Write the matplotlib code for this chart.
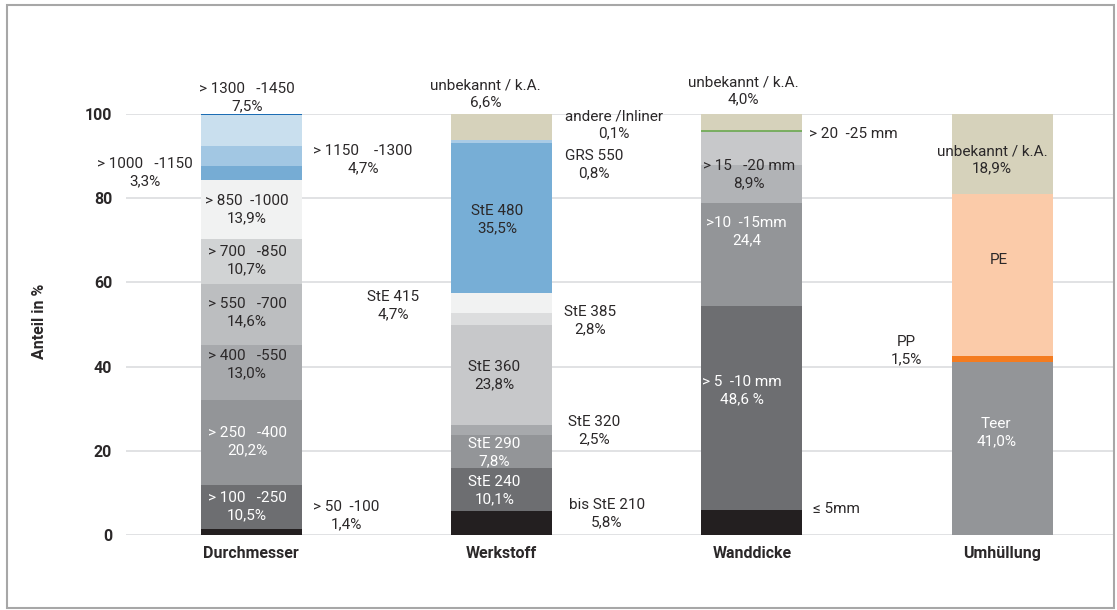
import matplotlib
matplotlib.use("Agg")
import matplotlib.pyplot as plt
import numpy as np

# categories on the x axis
categories = ["Durchmesser", "Werkstoff", "Wanddicke", "Umhüllung"]

# segment shares in %, bottom to top
durchmesser = [1.4, 10.5, 20.2, 13.0, 14.6, 10.7, 13.9, 3.3, 4.7, 7.5, 0.2]
werkstoff = [5.8, 10.1, 7.8, 2.5, 23.8, 2.8, 4.7, 35.5, 0.8, 0.1, 6.6]
wanddicke = [5.9, 48.6, 24.4, 8.9, 8.2, 4.0]
umhuellung = [41.0, 1.5, 38.6, 18.9]
yticks = [0, 20, 40, 60, 80, 100]

# segment colours
c_durch = ["#231f20", "#6d6e71", "#939598", "#a7a9ac", "#bcbec0", "#d1d3d4",
           "#f1f2f2", "#76acd4", "#a2c7e3", "#c9dfee", "#1c6db4"]
c_werk = ["#231f20", "#6d6e71", "#939598", "#a7a9ac", "#c7c8ca", "#dcddde",
          "#f1f2f2", "#77aed6", "#a9cbe6", "#6aa84f", "#d6d2bb"]
c_wand = ["#231f20", "#6d6e71", "#939598", "#b1b3b6", "#c7c8ca", "#d6d2bb"]
c_umh = ["#939598", "#f47c20", "#fbcba9", "#d6d2bb"]

# labels: (text, x, y, colour, ha)
DARK = "#2b2829"
labels = [
    ("> 1300   -1450\n7,5%", -0.016, 104.0, DARK, "center"),
    ("> 1150    -1300\n4,7%", 0.248, 89.1, DARK, "left"),
    ("> 1000   -1150\n3,3%", -0.232, 86.0, DARK, "right"),
    ("> 850  -1000\n13,9%", -0.016, 77.2, DARK, "center"),
    ("> 700   -850\n10,7%", -0.016, 65.1, DARK, "center"),
    ("> 550   -700\n14,6%", -0.016, 52.7, DARK, "center"),
    ("> 400   -550\n13,0%", -0.016, 40.4, DARK, "center"),
    ("> 250   -400\n20,2%", -0.016, 22.1, "white", "center"),
    ("> 100   -250\n10,5%", -0.016, 6.7, "white", "center"),
    ("> 50  -100\n1,4%", 0.248, 4.5, DARK, "left"),
    ("unbekannt / k.A.\n6,6%", 0.936, 104.8, DARK, "center"),
    ("andere /Inliner\n0,1%", 1.252, 97.4, DARK, "left"),
    ("GRS 550\n0,8%", 1.252, 87.9, DARK, "left"),
    ("StE 480\n35,5%", 0.984, 74.8, DARK, "center"),
    ("StE 415\n4,7%", 0.672, 54.4, DARK, "right"),
    ("StE 385\n2,8%", 1.248, 50.8, DARK, "left"),
    ("StE 360\n23,8%", 0.972, 37.8, DARK, "center"),
    ("StE 320\n2,5%", 1.264, 24.9, DARK, "left"),
    ("StE 290\n7,8%", 0.972, 19.5, "white", "center"),
    ("StE 240\n10,1%", 0.972, 10.5, "white", "center"),
    ("bis StE 210\n5,8%", 1.268, 5.0, DARK, "left"),
    ("unbekannt / k.A.\n4,0%", 1.968, 105.5, DARK, "center"),
    ("> 20  -25 mm", 2.228, 95.2, DARK, "left"),
    ("> 15   -20 mm\n8,9%", 1.988, 85.7, DARK, "center"),
    (">10  -15mm\n24,4", 1.98, 72.0, "white", "center"),
    ("> 5  -10 mm\n48,6 %", 1.96, 34.4, "white", "center"),
    ("≤ 5mm", 2.244, 6.2, DARK, "left"),
    ("unbekannt / k.A.\n18,9%", 2.96, 89.1, DARK, "center"),
    ("PE", 2.988, 65.3, DARK, "center"),
    ("PP\n1,5%", 2.68, 43.7, DARK, "right"),
    ("Teer\n41,0%", 2.976, 24.2, "white", "center"),
]

plt.rcParams["font.family"] = ["Roboto", "DejaVu Sans"]

fig = plt.figure(figsize=(11.17, 6.10), dpi=100)
ax = fig.add_axes([126 / 1117, 75 / 610, (1114 - 126) / 1117, 421 / 610])

width = 0.404
series = [durchmesser, werkstoff, wanddicke, umhuellung]
colours = [c_durch, c_werk, c_wand, c_umh]
for i, (vals, cols) in enumerate(zip(series, colours)):
    bottom = 0
    for v, c in zip(vals, cols):
        ax.bar(i, v, width=width, bottom=bottom, color=c, linewidth=0, zorder=2)
        bottom += v

# thin green line on top of the Wanddicke gray segments
top_gray = sum(wanddicke[:-1])
ax.hlines(top_gray, 2 - width / 2, 2 + width / 2, color="#6aa84f", lw=1.2, zorder=3)

for txt, x, y, col, ha in labels:
    ax.text(x, y, txt, color=col, ha=ha, va="center", multialignment="center",
            fontsize=11, linespacing=1.3, zorder=4, clip_on=False)

ax.set_xlim(-0.5, 3.447)
ax.set_ylim(0, 100)
ax.set_yticks(yticks)
ax.set_yticklabels([str(t) for t in yticks], fontsize=11.5, fontweight="bold",
                   color=DARK)
ax.set_xticks(range(len(categories)))
ax.set_xticklabels(categories, fontsize=11.5, fontweight="bold", color=DARK)
ax.tick_params(axis="y", length=0, pad=10)
ax.tick_params(axis="x", length=0, pad=8)
ax.grid(axis="y", color="#dcdddf", lw=1.2, zorder=0)
for s in ax.spines.values():
    s.set_visible(False)
ax.set_ylabel("Anteil in %", fontsize=11.5, fontweight="bold", color=DARK)
ax.yaxis.set_label_coords(-0.080, 0.508)

# outer frame
frame = plt.Rectangle((7 / 1117, 2 / 610), 1107 / 1117, 603 / 610,
                      transform=fig.transFigure, fill=False,
                      edgecolor="#a7a7a7", lw=1.5)
fig.patches.append(frame)

fig.savefig("out.png", dpi=100)
